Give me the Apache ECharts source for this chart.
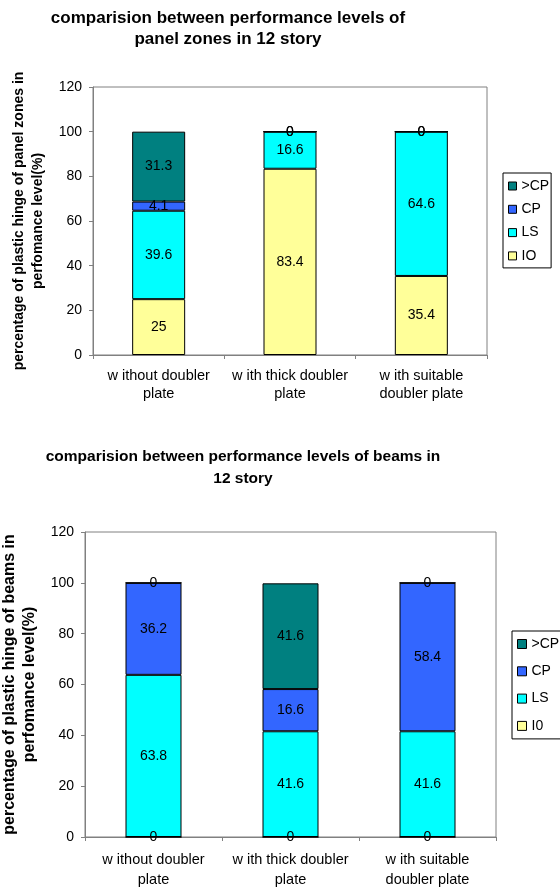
<!DOCTYPE html>
<html>
<head>
<meta charset="utf-8">
<script src="https://cdn.jsdelivr.net/npm/echarts@6/dist/echarts.min.js"></script>
<style>
  html, body { margin: 0; padding: 0; background: #fff; }
  #chart { width: 560px; height: 889px; }
</style>
</head>
<body>
<div id="chart"></div>
<script>
// Categories shared by both stacked-bar charts
const categories = ['w ithout doubler\nplate', 'w ith thick doubler\nplate', 'w ith suitable\ndoubler plate'];

// Panel zones (percent of plastic hinges in each performance level)
const panelIO = [25, 83.4, 35.4];
const panelLS = [39.6, 16.6, 64.6];
const panelCP = [4.1, 0, 0];
const panelOverCP = [31.3, 0, 0];

// Beams (percent of plastic hinges in each performance level)
const beamI0 = [0, 0, 0];
const beamLS = [63.8, 41.6, 41.6];
const beamCP = [36.2, 16.6, 58.4];
const beamOverCP = [0, 41.6, 0];

// Value axis range
const yMin = 0, yMax = 120, yStep = 20;

const FONT = '"Liberation Sans", Arial, sans-serif';
const colors = { overCP: '#008080', CP: '#3366FF', LS: '#00FFFF', IO: '#FFFF99' };

function barSeries(name, data, color, idx, stack, width) {
  return {
    name: name,
    type: 'bar',
    stack: stack,
    data: data,
    xAxisIndex: idx,
    yAxisIndex: idx,
    barWidth: width,
    itemStyle: { color: color, borderColor: '#000', borderWidth: 1 },
    label: { show: true, position: 'inside', color: '#000', fontSize: 14, fontFamily: FONT },
    emphasis: { disabled: true },
    animation: false
  };
}

function valueAxis(idx, nameText, nameSize, nameLH, gap) {
  return {
    type: 'value',
    gridIndex: idx,
    min: yMin, max: yMax, interval: yStep,
    axisLine: { show: true, lineStyle: { color: '#808080', width: 1 } },
    axisTick: { show: true, length: 4, lineStyle: { color: '#808080' } },
    splitLine: { show: false },
    axisLabel: { color: '#000', fontSize: 14, fontFamily: FONT, margin: 11 },
    name: nameText,
    nameLocation: 'middle',
    nameRotate: 90,
    nameGap: gap,
    nameTextStyle: { color: '#000', fontSize: nameSize, fontWeight: 'bold', fontFamily: FONT, lineHeight: nameLH }
  };
}

function categoryAxis(idx, lh, margin) {
  return {
    type: 'category',
    gridIndex: idx,
    data: categories,
    axisLine: { show: true, lineStyle: { color: '#808080', width: 1 } },
    axisTick: { show: true, length: 4, alignWithLabel: false, lineStyle: { color: '#808080' } },
    axisLabel: { interval: 0, color: '#000', fontSize: 14.5, fontFamily: FONT, lineHeight: lh, margin: margin }
  };
}

const chart = echarts.init(document.getElementById('chart'), null, { renderer: 'canvas' });

chart.setOption({
  backgroundColor: '#fff',
  animation: false,
  textStyle: { fontFamily: FONT },
  graphic: [
    {
      type: 'text', x: 228, y: 7.5,
      style: {
        text: 'comparision between performance levels of\npanel zones in 12 story',
        fontSize: 17, fontWeight: 'bold', fontFamily: FONT, fill: '#000',
        align: 'center', verticalAlign: 'top', lineHeight: 21
      }
    },
    {
      type: 'text', x: 243, y: 446,
      style: {
        text: 'comparision between performance levels of beams in\n12 story',
        fontSize: 15.5, fontWeight: 'bold', fontFamily: FONT, fill: '#000',
        align: 'center', verticalAlign: 'top', lineHeight: 22
      }
    }
  ],
  grid: [
    { left: 93, top: 87, width: 394, height: 268, show: true, borderColor: '#808080', borderWidth: 1, containLabel: false, outerBoundsMode: 'none' },
    { left: 85, top: 532, width: 411, height: 305, show: true, borderColor: '#808080', borderWidth: 1, containLabel: false, outerBoundsMode: 'none' }
  ],
  xAxis: [categoryAxis(0, 18, 12), categoryAxis(1, 20, 13)],
  yAxis: [
    valueAxis(0, 'percentage of plastic hinge of panel zones in\nperfomance level(%)', 14, 19, 43),
    valueAxis(1, 'percentage of plastic hinge of beams in\nperfomance level(%)', 16, 20, 40)
  ],
  legend: [
    {
      orient: 'vertical', left: 503, top: 173,
      data: ['>CP', 'CP', 'LS', 'IO'],
      icon: 'rect', itemWidth: 8, itemHeight: 8, itemGap: 9.3,
      padding: [6, 2, 5, 5],
      borderColor: '#000', borderWidth: 1,
      itemStyle: { borderColor: '#000', borderWidth: 1 },
      textStyle: { color: '#000', fontSize: 14, fontFamily: FONT },
      selectedMode: false
    },
    {
      orient: 'vertical', left: 512, top: 631,
      data: ['>CP', 'CP', 'LS', 'I0'],
      icon: 'rect', itemWidth: 9, itemHeight: 9, itemGap: 13.3,
      padding: [6, 6, 6, 5],
      borderColor: '#000', borderWidth: 1,
      itemStyle: { borderColor: '#000', borderWidth: 1 },
      textStyle: { color: '#000', fontSize: 14, fontFamily: FONT },
      selectedMode: false
    }
  ],
  series: [
    barSeries('IO', panelIO, colors.IO, 0, 'panel', 53),
    barSeries('LS', panelLS, colors.LS, 0, 'panel', 53),
    barSeries('CP', panelCP, colors.CP, 0, 'panel', 53),
    barSeries('>CP', panelOverCP, colors.overCP, 0, 'panel', 53),
    barSeries('I0', beamI0, colors.IO, 1, 'beam', 56),
    barSeries('LS', beamLS, colors.LS, 1, 'beam', 56),
    barSeries('CP', beamCP, colors.CP, 1, 'beam', 56),
    barSeries('>CP', beamOverCP, colors.overCP, 1, 'beam', 56)
  ]
});
</script>
</body>
</html>
